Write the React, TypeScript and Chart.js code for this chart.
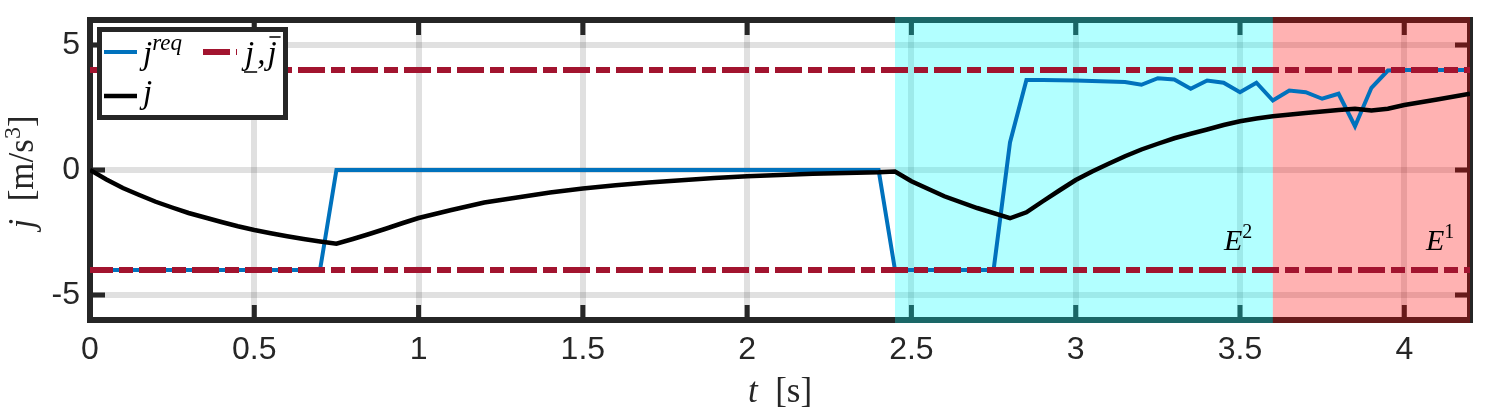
import React, { useEffect, useRef } from "react";
import { Chart, registerables } from "chart.js";

Chart.register(...registerables);

// ---- data ----
const jTime = [0, 0.05, 0.1, 0.15, 0.2, 0.25, 0.3, 0.35, 0.4, 0.45, 0.5, 0.55, 0.6, 0.65, 0.7, 0.75, 0.8, 0.85, 0.9, 0.95, 1.0, 1.1, 1.2, 1.3, 1.4, 1.5, 1.6, 1.7, 1.8, 1.9, 2.0, 2.1, 2.2, 2.3, 2.4, 2.45, 2.5, 2.6, 2.7, 2.8, 2.85, 2.9, 2.95, 3.0, 3.05, 3.1, 3.15, 3.2, 3.25, 3.3, 3.35, 3.4, 3.45, 3.5, 3.55, 3.6, 3.7, 3.8, 3.85, 3.9, 3.95, 4.0, 4.1, 4.2];
const jValues = [0, -0.38, -0.72, -1.0, -1.27, -1.5, -1.72, -1.9, -2.08, -2.25, -2.4, -2.53, -2.65, -2.76, -2.86, -2.95, -2.76, -2.56, -2.35, -2.13, -1.92, -1.6, -1.3, -1.1, -0.9, -0.74, -0.61, -0.5, -0.41, -0.32, -0.25, -0.2, -0.15, -0.12, -0.09, -0.06, -0.45, -1.05, -1.52, -1.93, -1.69, -1.25, -0.82, -0.4, -0.06, 0.25, 0.55, 0.82, 1.05, 1.27, 1.45, 1.62, 1.8, 1.95, 2.06, 2.15, 2.28, 2.4, 2.45, 2.38, 2.45, 2.6, 2.82, 3.05];

const jReqTime = [0, 0.7, 0.75, 2.4, 2.45, 2.75, 2.8, 2.85, 2.9, 3.0, 3.1, 3.15, 3.2, 3.25, 3.3, 3.35, 3.4, 3.45, 3.5, 3.55, 3.6, 3.65, 3.7, 3.75, 3.8, 3.85, 3.9, 3.95, 4.0, 4.2];
const jReqValues = [-4, -4, 0, 0, -4, -4, 1.1, 3.6, 3.6, 3.58, 3.54, 3.52, 3.41, 3.67, 3.62, 3.25, 3.58, 3.49, 3.11, 3.49, 2.78, 3.18, 3.11, 2.85, 3.05, 1.75, 3.29, 3.98, 4, 4];

const limitTime = [0, 4.2];
const jMax = 4;
const jMin = -4;

const xTicks = [0, 0.5, 1, 1.5, 2, 2.5, 3, 3.5, 4];
const xTickLabels = ["0", "0.5", "1", "1.5", "2", "2.5", "3", "3.5", "4"];
const yTicks = [-5, 0, 5];
const yTickLabels = ["-5", "0", "5"];

const regionE2 = [2.45, 3.6];
const regionE1 = [3.6, 4.2];

// ---- styles ----
const BLUE = "#0072BD";
const RED = "#A2142F";
const FRAME = "#262626";
const DASH = [27, 6, 14, 6];
const SERIF = "'Liberation Serif', 'DejaVu Serif', serif";
const SANS = "'Liberation Sans', Arial, sans-serif";

type Seg = { t: string; font: string; dy?: number };

function drawRich(ctx: CanvasRenderingContext2D, segs: Seg[], x: number, y: number, align: "left" | "center" = "left") {
  let total = 0;
  for (const s of segs) { ctx.font = s.font; total += ctx.measureText(s.t).width; }
  let cx = align === "center" ? x - total / 2 : x;
  for (const s of segs) {
    ctx.font = s.font;
    ctx.fillText(s.t, cx, y + (s.dy || 0));
    cx += ctx.measureText(s.t).width;
  }
}

const overlayPlugin = {
  id: "overlay",
  beforeDatasetsDraw(chart: any) {
    const { ctx, chartArea } = chart;
    const { left, right, top, bottom } = chartArea;
    const x = chart.scales.x;
    const y = chart.scales.y;
    ctx.save();
    // frame
    ctx.strokeStyle = FRAME;
    ctx.lineWidth = 6;
    ctx.strokeRect(left, top, right - left, bottom - top);
    // inner ticks
    ctx.lineWidth = 5;
    ctx.beginPath();
    xTicks.forEach((v) => {
      const px = x.getPixelForValue(v);
      ctx.moveTo(px, bottom); ctx.lineTo(px, bottom - 15);
      ctx.moveTo(px, top); ctx.lineTo(px, top + 15);
    });
    yTicks.forEach((v) => {
      const py = y.getPixelForValue(v);
      ctx.moveTo(left, py); ctx.lineTo(left + 15, py);
      ctx.moveTo(right, py); ctx.lineTo(right - 15, py);
    });
    ctx.stroke();
    // shaded regions
    const x0 = x.getPixelForValue(regionE2[0]);
    const x1 = x.getPixelForValue(regionE2[1]);
    const x2 = x.getPixelForValue(regionE1[1]);
    ctx.fillStyle = "rgba(0,255,255,0.3)";
    ctx.fillRect(x0, top - 3, x1 - x0, bottom - top + 6);
    ctx.fillStyle = "rgba(255,0,0,0.3)";
    ctx.fillRect(x1, top - 3, x2 - x1, bottom - top + 6);
    ctx.restore();
  },
  afterDraw(chart: any) {
    const { ctx, chartArea } = chart;
    const { left, right } = chartArea;
    ctx.save();
    ctx.fillStyle = "#000";
    ctx.textBaseline = "alphabetic";
    // region labels
    drawRich(ctx, [
      { t: "E", font: `italic 30px ${SERIF}` },
      { t: "2", font: `20px ${SERIF}`, dy: -12 },
    ], 1224, 250);
    drawRich(ctx, [
      { t: "E", font: `italic 30px ${SERIF}` },
      { t: "1", font: `20px ${SERIF}`, dy: -12 },
    ], 1426, 250);

    // x title
    ctx.fillStyle = "#262626";
    drawRich(ctx, [
      { t: "t", font: `italic 35px ${SERIF}` },
      { t: "  [s]", font: `35px ${SERIF}` },
    ], (left + right) / 2, 402, "center");

    // y title
    ctx.save();
    ctx.translate(33, 172);
    ctx.rotate(-Math.PI / 2);
    drawRich(ctx, [
      { t: "j", font: `italic 35px ${SERIF}` },
      { t: "  [m/s", font: `35px ${SERIF}` },
      { t: "3", font: `24px ${SERIF}`, dy: -13 },
      { t: "]", font: `35px ${SERIF}` },
    ], 0, 0, "center");
    ctx.restore();

    // legend
    ctx.fillStyle = "#fff";
    ctx.fillRect(99.5, 29.5, 186, 88);
    ctx.strokeStyle = FRAME;
    ctx.lineWidth = 5;
    ctx.strokeRect(99.5, 29.5, 186, 88);

    ctx.lineWidth = 4;
    ctx.strokeStyle = BLUE;
    ctx.beginPath(); ctx.moveTo(104, 52); ctx.lineTo(137, 52); ctx.stroke();
    ctx.strokeStyle = "#000";
    ctx.lineWidth = 4.5;
    ctx.beginPath(); ctx.moveTo(104, 96); ctx.lineTo(137, 96); ctx.stroke();
    ctx.strokeStyle = RED;
    ctx.lineWidth = 6;
    ctx.setLineDash(DASH);
    ctx.beginPath(); ctx.moveTo(203, 52); ctx.lineTo(237, 52); ctx.stroke();
    ctx.setLineDash([]);

    ctx.fillStyle = "#000";
    drawRich(ctx, [
      { t: "j", font: `italic 33px ${SERIF}` },
      { t: "req", font: `italic 23px ${SERIF}`, dy: -14 },
    ], 143, 64);
    drawRich(ctx, [{ t: "j", font: `italic 33px ${SERIF}` }], 143, 103);

    ctx.font = `italic 33px ${SERIF}`;
    ctx.fillText("j", 245, 64);
    const wj = ctx.measureText("j").width;
    ctx.fillText(",", 245 + wj + 3, 64);
    const wc = ctx.measureText(",").width;
    const j2x = 245 + wj + 3 + wc + 2;
    ctx.fillText("j", j2x, 64);
    ctx.strokeStyle = "#000";
    ctx.lineWidth = 1.5;
    ctx.beginPath();
    ctx.moveTo(244, 72); ctx.lineTo(245 + wj + 3, 72);
    ctx.moveTo(j2x + 2, 37); ctx.lineTo(j2x + wj + 4, 37);
    ctx.stroke();

    ctx.restore();
  },
};

export default function App() {
  const ref = useRef<HTMLCanvasElement | null>(null);
  useEffect(() => {
    document.body.style.margin = "0";
    const canvas = ref.current;
    if (!canvas) return;
    const toPts = (xs: number[], ys: number[]) => xs.map((v, i) => ({ x: v, y: ys[i] }));
    const chart = new Chart(canvas, {
      type: "line",
      data: {
        datasets: [
          {
            label: "j",
            data: toPts(jTime, jValues),
            borderColor: "#000",
            borderWidth: 4.5,
            pointRadius: 0,
            order: 0,
          },
          {
            label: "j max",
            data: toPts(limitTime, [jMax, jMax]),
            borderColor: RED,
            borderWidth: 6,
            borderDash: DASH,
            borderDashOffset: 4,
            pointRadius: 0,
            order: 1,
          },
          {
            label: "j min",
            data: toPts(limitTime, [jMin, jMin]),
            borderColor: RED,
            borderWidth: 6,
            borderDash: DASH,
            borderDashOffset: 4,
            pointRadius: 0,
            order: 1,
          },
          {
            label: "j req",
            data: toPts(jReqTime, jReqValues),
            borderColor: BLUE,
            borderWidth: 4,
            pointRadius: 0,
            order: 2,
          },
        ],
      },
      options: {
        animation: false,
        responsive: false,
        devicePixelRatio: 1,
        layout: { padding: { left: 0, top: 20, right: 25, bottom: 0 } },
        plugins: { legend: { display: false }, tooltip: { enabled: false } },
        elements: { line: { tension: 0 } },
        scales: {
          x: {
            type: "linear",
            min: 0,
            max: 4.2,
            afterBuildTicks: (s: any) => { s.ticks = xTicks.map((v) => ({ value: v })); },
            afterFit: (s: any) => { s.height = 95; s.paddingLeft = 0; s.paddingRight = 0; },
            border: { display: false },
            grid: { color: "rgba(0,0,0,0.12)", lineWidth: 6, drawTicks: false },
            ticks: {
              padding: 11,
              color: FRAME,
              font: { family: SANS, size: 32 },
              maxRotation: 0,
              autoSkip: false,
              callback: (v: any) => { const i = xTicks.indexOf(Number(v)); return i >= 0 ? xTickLabels[i] : ""; },
            },
          },
          y: {
            type: "linear",
            min: -6,
            max: 6,
            afterBuildTicks: (s: any) => { s.ticks = yTicks.map((v) => ({ value: v })); },
            afterFit: (s: any) => { s.width = 90; s.paddingTop = 0; s.paddingBottom = 0; },
            border: { display: false },
            grid: { color: "rgba(0,0,0,0.12)", lineWidth: 6, drawTicks: false },
            ticks: {
              padding: 10,
              color: FRAME,
              font: { family: SANS, size: 32 },
              callback: (v: any) => { const i = yTicks.indexOf(Number(v)); return i >= 0 ? yTickLabels[i] : ""; },
            },
          },
        },
      },
      plugins: [overlayPlugin],
    } as any);
    return () => chart.destroy();
  }, []);
  return (
    <div style={{ width: 1495, height: 415 }}>
      <canvas ref={ref} width={1495} height={415} />
    </div>
  );
}
